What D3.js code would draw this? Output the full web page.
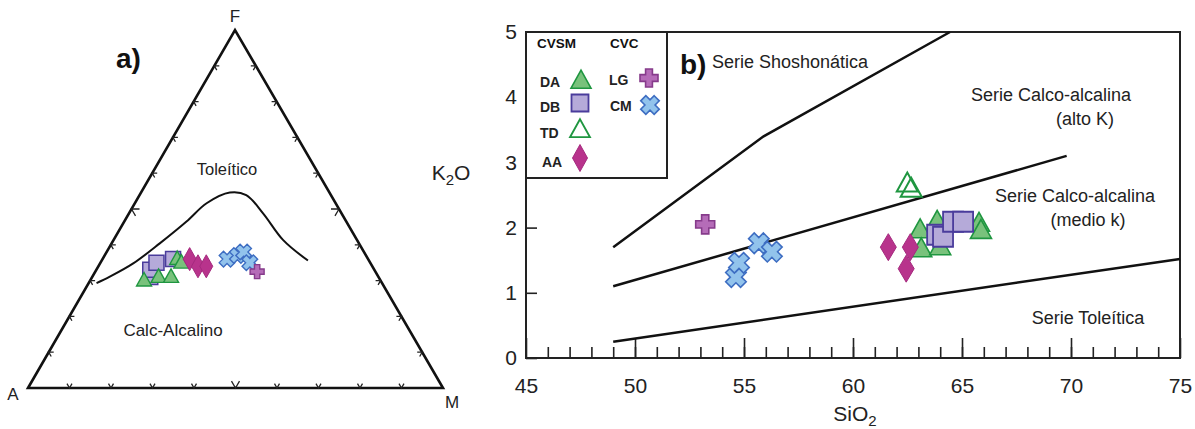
<!DOCTYPE html>
<html><head><meta charset="utf-8">
<script src="https://cdn.jsdelivr.net/npm/d3@7"></script>
<style>body{margin:0;background:#fff}svg{font-family:"Liberation Sans",Arial,sans-serif}</style>
</head><body><svg id="c" width="1195" height="429"></svg>
<script>
// ---------- DATA ----------
// Panel b (SiO2 vs K2O)
const xTicks=[45,50,55,60,65,70,75];
const yTicks=[0,1,2,3,4,5];
const shoLine=[[49,1.7],[55.9,3.4],[64.45,5]];
const hkLine=[[49,1.1],[69.8,3.1]];
const thLine=[[49,0.25],[75,1.52]];
const bDA=[[63.08,1.96],[63.86,2.09],[63.13,1.67],[64.0,1.7],[65.78,2.06],[65.87,1.95]];
const bDB=[[63.86,1.89],[64.13,1.86],[64.59,2.09],[65.05,2.09]];
const bTD=[[62.49,2.67],[62.67,2.59]];
const bAA=[[61.62,1.7],[62.63,1.7],[62.44,1.37]];
const bLG=[[53.22,2.05]];
const bCM=[[54.63,1.24],[54.77,1.46],[55.68,1.76],[56.28,1.63]];
// Panel a (AFM ternary) values as [A,F,M] %
const afmCurve=[[68.8,29.3,1.9],[64.7,31.1,4.2],[57.2,34.8,8.0],[48,40.4,11.6],[38.5,46.5,15],[31.1,51.6,17.3],[24,54.6,21.4],[20.4,53.9,25.7],[18.9,48.8,32.3],[17.8,41.3,40.9],[14.7,35.6,49.7]];
const aDB=[[55,31,14],[54,33,13],[51.5,35,13.5],[47,36,17]];
const aDA=[[46,36,18],[53,31,16],[50,31,19],[57,30,13],[45.5,35,19.5]];
const aAA=[[43,36,21],[42,34,24],[40,34,26]];
const aCM=[[34,36,30],[31,37,32],[29,38,33],[29,35,36]];
const aLG=[[28.5,32.5,39]];
const afmTicks=[10,20,30,40,50,60,70,80,90];

// ---------- STYLES ----------
const C={
 DA:{fill:"#79c27c",stroke:"#1f9640"},
 DB:{fill:"#b5aad9",stroke:"#4a3c9c"},
 TD:{fill:"none",stroke:"#1f9640"},
 AA:{fill:"#b8338c",stroke:"#a52a7e"},
 LG:{fill:"#b56cb8",stroke:"#863b8b"},
 CM:{fill:"#92c3ec",stroke:"#3d6dc2"}
};
function tri(w){const h=w*0.9;return `M0,${-h*0.6}L${w/2},${h*0.4}L${-w/2},${h*0.4}Z`;}
function sq(s){return `M${-s/2},${-s/2}h${s}v${s}h${-s}Z`;}
function dia(w,h){return `M0,${-h/2}L${w/2},0L0,${h/2}L${-w/2},0Z`;}
function plusPts(s){const a=s/2,t=s*0.19;return [[-t,-a],[t,-a],[t,-t],[a,-t],[a,t],[t,t],[t,a],[-t,a],[-t,t],[-a,t],[-a,-t],[-t,-t]];}
function plus(s){return "M"+plusPts(s).map(p=>p.join(",")).join("L")+"Z";}
function cross(s){const r=Math.SQRT1_2;return "M"+plusPts(s).map(([px,py])=>[(px-py)*r,(px+py)*r].join(",")).join("L")+"Z";}

const svg=d3.select("#c");
function marks(g,data,pos,path,st,sw){
  g.append("g").selectAll("path").data(data).join("path")
   .attr("transform",d=>{const p=pos(d);return `translate(${p[0]},${p[1]})`;})
   .attr("d",path).attr("fill",st.fill).attr("stroke",st.stroke).attr("stroke-width",sw).attr("stroke-linejoin","miter");
}
const tx=(g,t,xx,yy,opt={})=>g.append("text").attr("x",xx).attr("y",yy).text(t)
  .attr("font-size",opt.fs||17).attr("fill",opt.fill||"#222").attr("font-weight",opt.fw||"normal").attr("text-anchor",opt.anchor||"start");

// ---------- PANEL B ----------
const x=d3.scaleLinear().domain([45,75]).range([526,1180]);
const y=d3.scaleLinear().domain([0,5]).range([358,32]);
const gb=svg.append("g");
gb.append("rect").attr("x",x(45)).attr("y",y(5)).attr("width",x(75)-x(45)).attr("height",y(0)-y(5))
  .attr("fill","none").attr("stroke","#222").attr("stroke-width",2);
gb.append("g").attr("transform",`translate(0,${y(0)})`)
  .call(d3.axisBottom(x).tickValues(d3.range(46,75)).tickSizeInner(-11).tickSizeOuter(0).tickFormat(""))
  .call(g=>{g.select(".domain").remove();g.selectAll("line").attr("stroke","#222").attr("stroke-width",1.6);});
gb.append("g").attr("transform",`translate(0,${y(0)})`)
  .call(d3.axisBottom(x).tickValues(xTicks).tickSizeInner(-20).tickSizeOuter(0).tickPadding(20).tickFormat(d3.format("d")))
  .call(g=>{g.select(".domain").remove();g.selectAll("line").attr("stroke","#222").attr("stroke-width",1.6);
    g.selectAll("text").attr("font-size",21).attr("fill","#222").attr("font-family","Liberation Sans, Arial");});
gb.append("g").attr("transform",`translate(${x(45)},0)`)
  .call(d3.axisLeft(y).tickValues(yTicks).tickSizeInner(-11).tickSizeOuter(0).tickPadding(9).tickFormat(d3.format("d")))
  .call(g=>{g.select(".domain").remove();g.selectAll("line").attr("stroke","#222").attr("stroke-width",1.6);
    g.selectAll("text").attr("font-size",21).attr("fill","#222").attr("font-family","Liberation Sans, Arial");});

const line=d3.line().x(d=>x(d[0])).y(d=>y(d[1]));
[shoLine,hkLine,thLine].forEach(L=>gb.append("path").attr("d",line(L)).attr("fill","none").attr("stroke","#111").attr("stroke-width",2.5));

const pb=d=>[x(d[0]),y(d[1])];
marks(gb,bDA,pb,tri(21),C.DA,1.6);
marks(gb,bDB,pb,sq(20),C.DB,1.8);
marks(gb,bAA,pb,dia(16,27),C.AA,1);
marks(gb,bTD,pb,tri(21),C.TD,2);
marks(gb,bCM,pb,cross(21),C.CM,1.6);
marks(gb,bLG,pb,plus(19),C.LG,1.6);

tx(gb,"Serie Shoshonática",712,68,{fs:18});
tx(gb,"Serie Calco-alcalina",1051,101,{fs:18,anchor:"middle"});
tx(gb,"(alto K)",1085,125,{fs:18,anchor:"middle"});
tx(gb,"Serie Calco-alcalina",1075,202,{fs:18,anchor:"middle"});
tx(gb,"(medio k)",1088,226,{fs:18,anchor:"middle"});
tx(gb,"Serie Toleítica",1088,324,{fs:18,anchor:"middle"});
tx(gb,"b)",680,74,{fs:28,fw:"bold",fill:"#111"});
const k=gb.append("text").attr("x",451).attr("y",180).attr("text-anchor","middle").attr("font-size",21).attr("fill","#222");
k.append("tspan").text("K");k.append("tspan").text("2").attr("font-size",15).attr("dy",5);k.append("tspan").text("O").attr("dy",-5);
const s=gb.append("text").attr("x",855).attr("y",421).attr("text-anchor","middle").attr("font-size",21).attr("fill","#222");
s.append("tspan").text("SiO");s.append("tspan").text("2").attr("font-size",15).attr("dy",5);

// legend
const lg=gb.append("g");
lg.append("rect").attr("x",x(45)).attr("y",y(5)).attr("width",141).attr("height",146).attr("fill","#fff").attr("stroke","#222").attr("stroke-width",2);
tx(lg,"CVSM",537,48,{fs:13.5,fw:"bold",fill:"#111"});
tx(lg,"CVC",610,48,{fs:13.5,fw:"bold",fill:"#111"});
const legItems=[["DA",540,87,581,81,tri(20),C.DA,1.6],["DB",540,112,580,103,sq(17),C.DB,1.8],["TD",540,138,580,130,tri(20),C.TD,1.8],["AA",542,167,580,158,dia(15,27),C.AA,1],
  ["LG",609,85,649,78,plus(18),C.LG,1.6],["CM",610,111,650,105,cross(19),C.CM,1.6]];
legItems.forEach(([t,lx,ly,sx,sy,p,st,sw])=>{
  tx(lg,t,lx,ly,{fs:14,fw:"bold",fill:"#222"});
  lg.append("path").attr("transform",`translate(${sx},${sy})`).attr("d",p).attr("fill",st.fill).attr("stroke",st.stroke).attr("stroke-width",sw);
});

// ---------- PANEL A ----------
const V={A:[28,388],F:[235,30],M:[443,388]};
const proj=d=>{const t=d[0]+d[1]+d[2],a=d[0]/t,f=d[1]/t,m=d[2]/t;
  return [a*V.A[0]+f*V.F[0]+m*V.M[0],a*V.A[1]+f*V.F[1]+m*V.M[1]];};
const ga=svg.append("g");
ga.append("path").attr("d",`M${V.A}L${V.F}L${V.M}Z`).attr("fill","none").attr("stroke","#111").attr("stroke-width",2.6).attr("stroke-linejoin","miter");
const unit=(p,q)=>{const dx=q[0]-p[0],dy=q[1]-p[1],l=Math.hypot(dx,dy);return [dx/l,dy/l];};
const edges=[[V.A,V.M,unit(V.A,V.F),unit(V.M,V.F)],[V.A,V.F,unit(V.A,V.M),unit(V.F,V.M)],[V.M,V.F,unit(V.M,V.A),unit(V.F,V.A)]];
edges.forEach(([p,q,d1,d2])=>{
  afmTicks.forEach(v=>{
    const t=v/100,px=p[0]+(q[0]-p[0])*t,py=p[1]+(q[1]-p[1])*t,L=v===50?8:5;
    ga.append("path").attr("d",`M${px+d1[0]*L},${py+d1[1]*L}L${px},${py}L${px+d2[0]*L},${py+d2[1]*L}`)
      .attr("fill","none").attr("stroke","#222").attr("stroke-width",1.3);
  });
});
ga.append("path").attr("d",d3.line().x(d=>proj(d)[0]).y(d=>proj(d)[1]).curve(d3.curveCatmullRom)(afmCurve))
  .attr("fill","none").attr("stroke","#111").attr("stroke-width",2);
marks(ga,aDB,proj,sq(15),C.DB,1.5);
marks(ga,aDA,proj,tri(15),C.DA,1.4);
marks(ga,aAA,proj,dia(13,23),C.AA,1);
marks(ga,aCM,proj,cross(16),C.CM,1.4);
marks(ga,aLG,proj,plus(14),C.LG,1.4);
tx(ga,"F",235,22,{fs:17,anchor:"middle"});
tx(ga,"A",13,400,{fs:17,anchor:"middle"});
tx(ga,"M",452,408,{fs:17,anchor:"middle"});
tx(ga,"a)",116,68,{fs:28,fw:"bold",fill:"#111"});
tx(ga,"Toleítico",227,175,{fs:16.5,anchor:"middle"});
tx(ga,"Calc-Alcalino",173,336,{fs:17,anchor:"middle"});
</script></body></html>
